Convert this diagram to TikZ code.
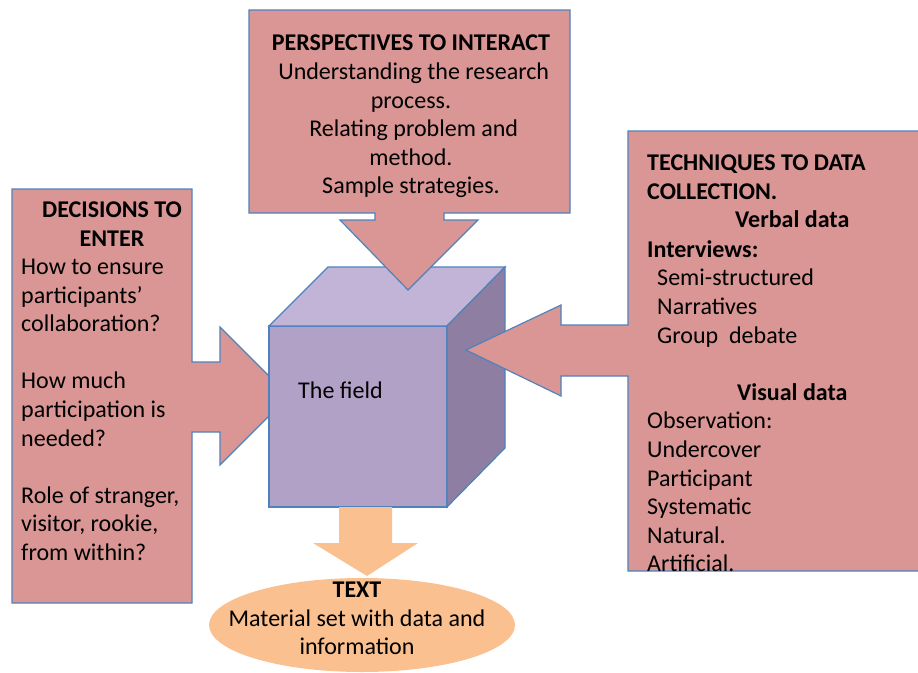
\documentclass[tikz,border=0pt]{standalone}
\usepackage{fontspec}
\setmainfont{Carlito}
\usepackage{xcolor}
\usetikzlibrary{positioning}

\definecolor{boxpink}{HTML}{D99694}
\definecolor{edgeblue}{HTML}{4F81BD}
\definecolor{cubefront}{HTML}{B2A1C7}
\definecolor{cubetop}{HTML}{C2B4D6}
\definecolor{cubeside}{HTML}{8E7FA2}
\definecolor{textorange}{HTML}{FAC090}

\begin{document}
\begin{tikzpicture}[
    x=0.03cm, y=-0.03cm,
    callout/.style={fill=boxpink, draw=edgeblue, line width=1pt, line join=miter},
    face/.style={draw=edgeblue, line width=1pt, line join=miter},
    txt/.style={inner sep=0pt, font=\fontsize{20.5}{24.4}\selectfont}
]
    \useasboundingbox (0,0) rectangle (918,673);

    % Left callout (arrow tip goes under the cube)
    \draw[callout] (12,189) -- (192,189) -- (192,362) -- (220,362) -- (220,327) -- (289,396)
        -- (220,465) -- (220,432) -- (192,432) -- (192,603) -- (12,603) -- cycle;

    % The cube
    \draw[face, fill=cubefront] (269,326) rectangle (447,507);
    \draw[face, fill=cubetop] (269,326) -- (328,267) -- (505,267) -- (447,326) -- cycle;
    \draw[face, fill=cubeside] (447,326) -- (505,267) -- (505,448) -- (447,507) -- cycle;
    \node[txt, anchor=base west] (field) at (298,398) {The field};

    % Top and right callouts
    \draw[callout] (249,10) -- (570,10) -- (570,213) -- (444,213) -- (444,220) -- (478,220)
        -- (408,290) -- (340,220) -- (375,220) -- (375,213) -- (249,213) -- cycle;
    \draw[callout] (628,131) -- (925,131) -- (925,571) -- (628,571) -- (628,376) -- (561,376)
        -- (561,396) -- (466,350) -- (561,305) -- (561,325) -- (628,325) -- cycle;

    % Output arrow and ellipse
    \fill[textorange] (339,507) -- (392,507) -- (392,543) -- (418,543) -- (367,576) -- (313,543)
        -- (339,543) -- cycle;
    \fill[textorange] (362,625) ellipse [x radius=153, y radius=47];

    % Texts
    \node[txt, anchor=north, align=center] (persp) at (411,35)
        {\textbf{PERSPECTIVES TO INTERACT}\\\ Understanding the research\\process.\\\ Relating problem and\\method.\\Sample strategies.};

    \node[txt, anchor=north, align=center] (enter) at (112,202) {\textbf{DECISIONS TO}\\\textbf{ENTER}};
    \node[txt, anchor=north west, align=left] (questions) at (21,259)
        {How to ensure\\participants'\\collaboration?\\[24.4pt]How much\\participation is\\needed?\\[24.4pt]Role of stranger,\\visitor, rookie,\\from within?};

    \node[txt, anchor=north west, align=left] (tech) at (647,155) {\textbf{TECHNIQUES TO DATA}\\\textbf{COLLECTION.}};
    \node[txt, anchor=base west] (verbal) at (735,227) {\textbf{Verbal data}};
    \node[txt, anchor=base west] (interv) at (647,257) {\textbf{Interviews:}};
    \node[txt, anchor=north west, align=left] (kinds) at (657,269) {Semi-structured\\Narratives\\Group\ \ debate};
    \node[txt, anchor=base west] (visual) at (737,400) {\textbf{Visual data}};
    \node[txt, anchor=north west, align=left] (observ) at (647,412)
        {Observation:\\Undercover\\Participant\\Systematic\\Natural.\\Artificial.};

    \node[txt, anchor=north, align=center] (result) at (357,582) {\textbf{TEXT}\\Material set with data and\\information};

\end{tikzpicture}
\end{document}
